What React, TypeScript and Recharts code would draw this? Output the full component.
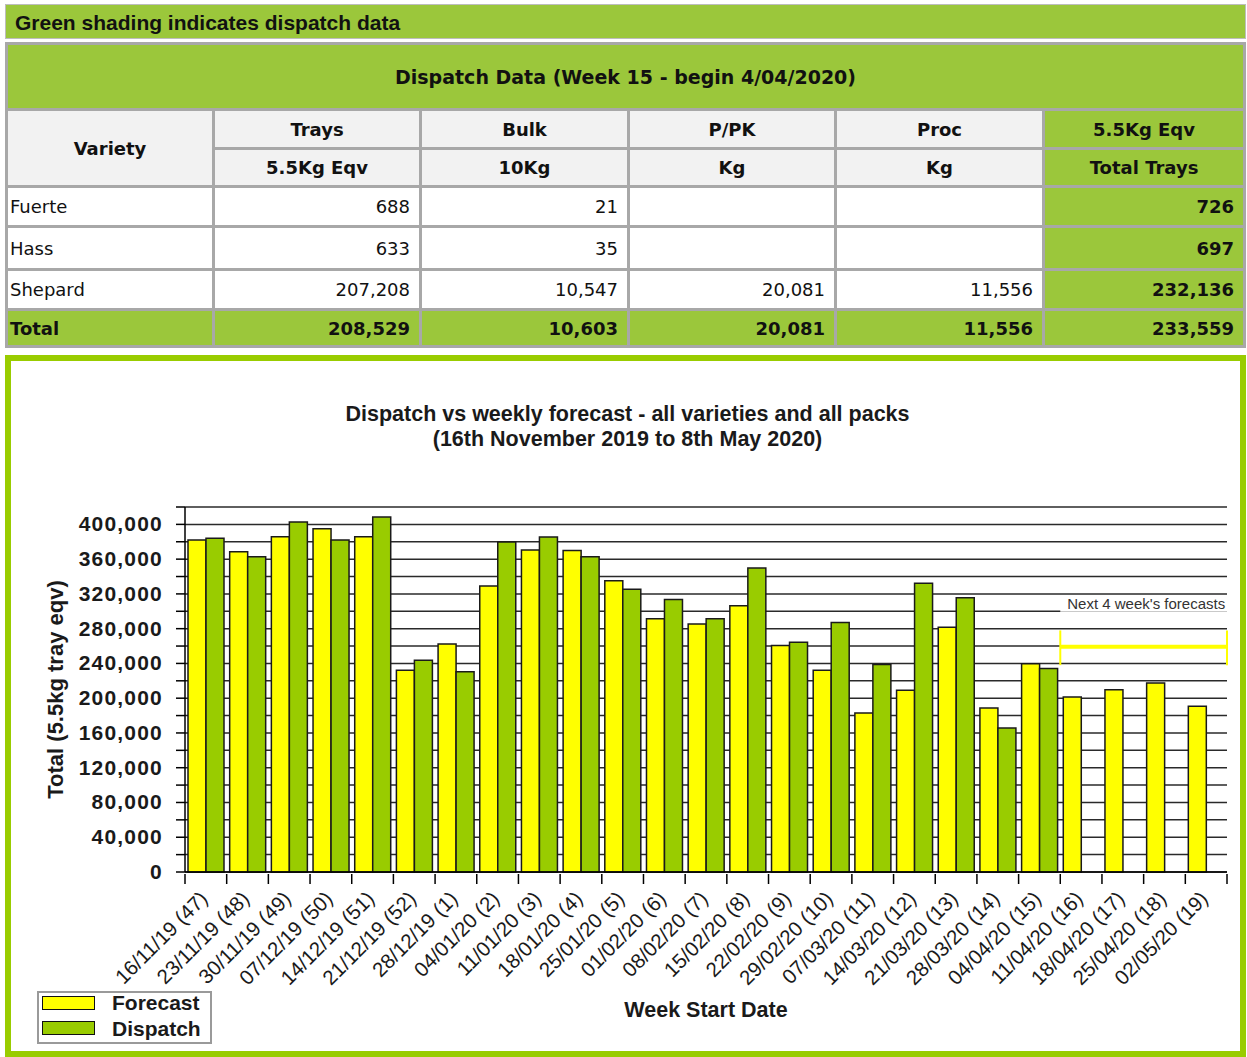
import React from 'react';
import { BarChart, Bar, XAxis, YAxis, CartesianGrid, Legend, ReferenceArea, ReferenceLine } from 'recharts';

// ---- table data ----
const varieties = ['Fuerte', 'Hass', 'Shepard'];
const trays = ['688', '633', '207,208'];
const bulk = ['21', '35', '10,547'];
const ppk = ['', '', '20,081'];
const proc = ['', '', '11,556'];
const totalTrays = ['726', '697', '232,136'];
const totalsRow = ['208,529', '10,603', '20,081', '11,556', '233,559'];

// ---- chart data ----
const weeks = [
  '16/11/19 (47)', '23/11/19 (48)', '30/11/19 (49)', '07/12/19 (50)', '14/12/19 (51)',
  '21/12/19 (52)', '28/12/19 (1)', '04/01/20 (2)', '11/01/20 (3)', '18/01/20 (4)',
  '25/01/20 (5)', '01/02/20 (6)', '08/02/20 (7)', '15/02/20 (8)', '22/02/20 (9)',
  '29/02/20 (10)', '07/03/20 (11)', '14/03/20 (12)', '21/03/20 (13)', '28/03/20 (14)',
  '04/04/20 (15)', '11/04/20 (16)', '18/04/20 (17)', '25/04/20 (18)', '02/05/20 (19)',
];
const forecast = [
  382000, 368500, 385700, 395000, 385700, 232200, 262500, 329000, 370400, 370000,
  335000, 291300, 285500, 306300, 260700, 232200, 183000, 209200, 281700, 188800,
  239500, 201500, 209600, 217600, 190800,
];
const dispatch = [
  384000, 362700, 402600, 382000, 408400, 243800, 230300, 379600, 385400, 362700,
  325500, 313600, 291300, 349700, 264500, 287200, 238800, 332400, 315500, 165800,
  234200, null, null, null, null,
];
const yTicks = [
  0, 20000, 40000, 60000, 80000, 100000, 120000, 140000, 160000, 180000, 200000,
  220000, 240000, 260000, 280000, 300000, 320000, 340000, 360000, 380000, 400000, 420000,
];
const legendOrder = ['Forecast', 'Dispatch'];
const forecastWindowStart = weeks[21];
const forecastWindowEnd = weeks[24];

const data = weeks.map((week, i) => ({ week, forecast: forecast[i], dispatch: dispatch[i] }));

const GREEN = '#9BC73B';
const GRAY = '#A8A8A8';
const ARIAL = '"Liberation Sans", Arial, sans-serif';
const VERDANA = '"DejaVu Sans", Verdana, sans-serif';

const XTick = (props: any) => {
  const { x, y, payload, index } = props;
  const half = payload && payload.offset ? payload.offset : 20.84;
  const last = index === weeks.length - 1;
  const ax = x + 3;
  const ay = y + 26;
  return (
    <g>
      <line x1={x - half} x2={x - half} y1={y} y2={y + 10} stroke="#000" strokeWidth={1.5} />
      {last && <line x1={x + half} x2={x + half} y1={y} y2={y + 10} stroke="#000" strokeWidth={1.5} />}
      <text
        x={ax}
        y={ay}
        transform={`rotate(-45, ${ax}, ${ay})`}
        textAnchor="end"
        fontFamily={ARIAL}
        fontSize={20.5}
        fill="#1a1a1a"
      >
        {payload.value}
      </text>
    </g>
  );
};

const YTick = (props: any) => {
  const { x, y, payload } = props;
  if (payload.value % 40000 !== 0) return null;
  return (
    <text x={x + 1} y={y} dy={7} textAnchor="end" fontFamily={ARIAL} fontWeight="bold" fontSize={21} letterSpacing={1.2} fill="#1a1a1a">
      {payload.value.toLocaleString('en-US')}
    </text>
  );
};

const LegendBox = (props: any) => {
  const items = [...(props.payload || [])].sort(
    (a: any, b: any) => legendOrder.indexOf(a.value) - legendOrder.indexOf(b.value),
  );
  return (
    <div style={{ position: 'relative', width: 175, height: 53, border: '2px solid #9a9a9a', boxSizing: 'border-box', background: '#fff' }}>
      {items.map((it: any, i: number) => (
        <div key={it.value}>
          <div style={{ position: 'absolute', left: 3, top: 3 + i * 25, width: 53, height: 14, background: it.color, border: '1.5px solid #111', boxSizing: 'border-box' }} />
          <div style={{ position: 'absolute', left: 73, top: -3 + i * 26, fontFamily: ARIAL, fontWeight: 'bold', fontSize: 21, color: '#1a1a1a', lineHeight: '25px' }}>
            {it.value}
          </div>
        </div>
      ))}
    </div>
  );
};

function DispatchChart() {
  return (
    <BarChart
      width={1229}
      height={690}
      data={data}
      margin={{ top: 146, right: 13, left: 0, bottom: 0 }}
      barCategoryGap={3}
      barGap={0}
    >
      <CartesianGrid vertical={false} stroke="#2a2a2a" strokeWidth={1.5} />
      <XAxis
        dataKey="week"
        interval={0}
        height={179}
        tickSize={0}
        tickLine={false}
        axisLine={{ stroke: '#000', strokeWidth: 1.5 }}
        tick={(p: any) => <XTick {...p} />}
        label={{
          content: (p: any) => {
            const vb = p.viewBox;
            return (
              <text x={vb.x + vb.width / 2} y={vb.y + 145} textAnchor="middle" fontFamily={ARIAL} fontWeight="bold" fontSize={21.5} fill="#1a1a1a">
                Week Start Date
              </text>
            );
          },
        }}
      />
      <XAxis xAxisId="top" orientation="top" dataKey="week" height={0} tick={false} tickLine={false} axisLine={{ stroke: '#999', strokeWidth: 2 }} />
      <YAxis
        width={174}
        domain={[0, 420000]}
        ticks={yTicks}
        interval={0}
        tickSize={9}
        tickMargin={14}
        tickLine={{ stroke: '#000', strokeWidth: 1.5 }}
        axisLine={{ stroke: '#000', strokeWidth: 1.5 }}
        tick={(p: any) => <YTick {...p} />}
        label={{
          content: (p: any) => {
            const vb = p.viewBox;
            const cx = vb.x + 44;
            const cy = vb.y + vb.height / 2;
            return (
              <text x={cx} y={cy} transform={`rotate(-90, ${cx}, ${cy})`} dy={8} textAnchor="middle" fontFamily={ARIAL} fontWeight="bold" fontSize={22} fill="#1a1a1a">
                Total (5.5kg tray eqv)
              </text>
            );
          },
        }}
      />
      <YAxis yAxisId="right" orientation="right" width={0} domain={[0, 420000]} tick={false} tickLine={false} axisLine={{ stroke: '#999', strokeWidth: 2 }} />
      <ReferenceArea
        x1={forecastWindowStart}
        x2={forecastWindowEnd}
        y1={299500}
        y2={315000}
        fill="#fff"
        fillOpacity={1}
        stroke="none"
        label={{
          content: (p: any) => {
            const vb = p.viewBox;
            return (
              <text x={vb.x + 7} y={vb.y + vb.height - 3} fontFamily={ARIAL} fontSize={15} fill="#333">
                Next 4 week's forecasts
              </text>
            );
          },
        }}
      />
      <ReferenceArea x1={forecastWindowStart} x2={forecastWindowEnd} y1={257000} y2={261500} fill="#FFFF00" fillOpacity={1} stroke="none" />
      <ReferenceLine
        segment={[{ x: forecastWindowStart, y: 238000 }, { x: forecastWindowStart, y: 278000 }]}
        position="start"
        stroke="#FFFF00"
        strokeWidth={2}
      />
      <ReferenceLine
        segment={[{ x: forecastWindowEnd, y: 238000 }, { x: forecastWindowEnd, y: 278000 }]}
        position="end"
        stroke="#FFFF00"
        strokeWidth={2}
      />
      <Bar dataKey="forecast" name="Forecast" fill="#FFFF00" stroke="#1a1a1a" strokeWidth={1.5} isAnimationActive={false} />
      <Bar dataKey="dispatch" name="Dispatch" fill="#99CC00" stroke="#1a1a1a" strokeWidth={1.5} isAnimationActive={false} />
      <Legend
        layout="vertical"
        align="center"
        verticalAlign="middle"
        wrapperStyle={{ left: 26, top: 630, width: 175, height: 53 }}
        content={(p: any) => <LegendBox {...p} />}
      />
    </BarChart>
  );
}

const th: React.CSSProperties = { background: '#F2F2F2', fontWeight: 'bold', textAlign: 'center', padding: 0 };
const tdNum: React.CSSProperties = { background: '#fff', textAlign: 'right', padding: '0 9px 0 0' };

export default function App() {
  const rowHeights = [37, 40, 37];
  return (
    <div style={{ position: 'absolute', left: 0, top: 0, width: 1247, height: 1057, background: '#fff', overflow: 'hidden' }}>
      <div
        style={{
          position: 'absolute', left: 5, top: 4, width: 1241, height: 35, boxSizing: 'border-box',
          background: GREEN, border: '1.5px solid #BDBDBD', fontFamily: ARIAL, fontWeight: 'bold',
          fontSize: 21, lineHeight: '36px', paddingLeft: 9, color: '#111',
        }}
      >
        Green shading indicates dispatch data
      </div>

      <table
        style={{
          position: 'absolute', left: 5, top: 42, width: 1241, borderCollapse: 'separate', borderSpacing: 3,
          background: GRAY, tableLayout: 'fixed', fontFamily: VERDANA, fontSize: 18, color: '#111',
        }}
      >
        <colgroup>
          <col style={{ width: 204 }} />
          <col style={{ width: 204 }} />
          <col style={{ width: 205 }} />
          <col style={{ width: 204 }} />
          <col style={{ width: 205 }} />
          <col style={{ width: 198 }} />
        </colgroup>
        <tbody>
          <tr>
            <td colSpan={6} style={{ background: GREEN, height: 63, textAlign: 'center', fontWeight: 'bold', fontSize: 19, padding: 0 }}>
              Dispatch Data (Week 15 - begin 4/04/2020)
            </td>
          </tr>
          <tr>
            <td rowSpan={2} style={th}>Variety</td>
            <td style={{ ...th, height: 36 }}>Trays</td>
            <td style={th}>Bulk</td>
            <td style={th}>P/PK</td>
            <td style={th}>Proc</td>
            <td style={{ ...th, background: GREEN }}>5.5Kg Eqv</td>
          </tr>
          <tr>
            <td style={{ ...th, height: 35 }}>5.5Kg Eqv</td>
            <td style={th}>10Kg</td>
            <td style={th}>Kg</td>
            <td style={th}>Kg</td>
            <td style={{ ...th, background: GREEN }}>Total Trays</td>
          </tr>
          {varieties.map((v, i) => (
            <tr key={v}>
              <td style={{ background: '#fff', height: rowHeights[i], padding: '0 0 0 2px' }}>{v}</td>
              <td style={tdNum}>{trays[i]}</td>
              <td style={tdNum}>{bulk[i]}</td>
              <td style={tdNum}>{ppk[i]}</td>
              <td style={tdNum}>{proc[i]}</td>
              <td style={{ ...tdNum, background: GREEN, fontWeight: 'bold' }}>{totalTrays[i]}</td>
            </tr>
          ))}
          <tr>
            <td style={{ background: GREEN, height: 34, padding: '0 0 0 2px', fontWeight: 'bold' }}>Total</td>
            {totalsRow.map((t, i) => (
              <td key={i} style={{ ...tdNum, background: GREEN, fontWeight: 'bold' }}>{t}</td>
            ))}
          </tr>
        </tbody>
      </table>

      <div
        style={{
          position: 'absolute', left: 5, top: 355, width: 1241, height: 702, boxSizing: 'border-box',
          border: '6px solid #99CC00', background: '#fff',
        }}
      >
        <div
          style={{
            position: 'absolute', left: 0, top: 41, width: 1233, textAlign: 'center', fontFamily: ARIAL,
            fontWeight: 'bold', fontSize: 21.5, lineHeight: '25px', color: '#1a1a1a', zIndex: 2,
          }}
        >
          <div>Dispatch vs weekly forecast - all varieties and all packs</div>
          <div>(16th November 2019 to 8th May 2020)</div>
        </div>
        <DispatchChart />
      </div>
    </div>
  );
}
